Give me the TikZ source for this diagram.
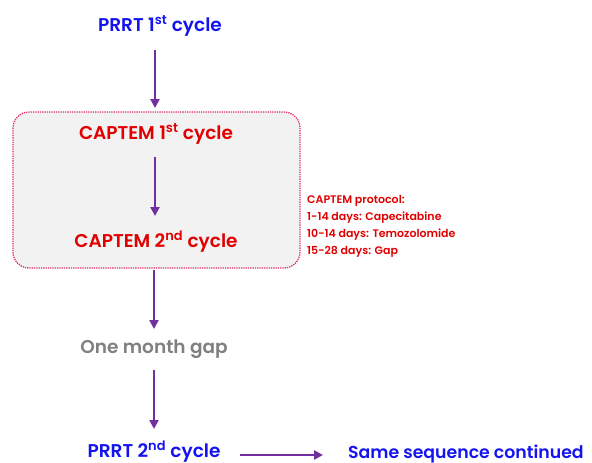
\documentclass[tikz,border=0pt]{standalone}
\usepackage{fontspec}
\setmainfont{Poppins}[BoldFont={Poppins SemiBold}]
\usepackage{tikz}
\usetikzlibrary{positioning, arrows.meta}
\definecolor{prrtcolor}{HTML}{1414F0}
\definecolor{captemcolor}{HTML}{E00000}
\definecolor{gapcolor}{HTML}{808080}
\definecolor{flowcolor}{HTML}{7030A0}
\definecolor{boxedge}{HTML}{E0306A}
\definecolor{boxfill}{HTML}{F2F2F2}

\begin{document}
\begin{tikzpicture}[x=1pt, y=-1pt,
    steptext/.style={font=\fontsize{18.5}{22}\selectfont\bfseries, inner sep=0pt, anchor=base},
    flow/.style={line width=2.4pt, flowcolor, arrows={-Triangle[length=9pt, width=9pt]}}]

    \useasboundingbox (0,0) rectangle (592,463);

    % Box round the CAPTEM cycles
    \draw[boxedge, fill=boxfill, densely dotted, line width=1.3pt, rounded corners=16pt]
        (13,112) rectangle (300,268);

    % Steps
    \node[steptext, prrtcolor]   (prrt1)   at (160,31)  {PRRT 1\textsuperscript{st} cycle};
    \node[steptext, captemcolor] (captem1) at (156,139) {CAPTEM 1\textsuperscript{st} cycle};
    \node[steptext, captemcolor] (captem2) at (156,247) {CAPTEM 2\textsuperscript{nd} cycle};
    \node[steptext, gapcolor]    (gap)     at (154,353) {One month gap};
    \node[steptext, prrtcolor]   (prrt2)   at (154,457) {PRRT 2\textsuperscript{nd} cycle};
    \node[steptext, prrtcolor, anchor=base west, font=\fontsize{17.3}{20}\selectfont\bfseries]
        (same) at (348,458) {Same sequence continued};

    % Protocol note
    \node[captemcolor, font=\fontsize{11}{17}\selectfont\bfseries, align=left, anchor=base west, inner sep=0pt]
        (protocol) at (307,254) {CAPTEM protocol:\\1-14 days: Capecitabine\\10-14 days: Temozolomide\\15-28 days: Gap};

    % Arrows
    \coordinate (a1s) at (155,50);  \coordinate (a1e) at (155,108);
    \coordinate (a2s) at (155,157); \coordinate (a2e) at (155,216);
    \coordinate (a3s) at (154,270); \coordinate (a3e) at (154,329);
    \coordinate (a4s) at (154,370); \coordinate (a4e) at (154,429);
    \coordinate (a5s) at (240,455); \coordinate (a5e) at (323,455);

    \draw[flow] (a1s) -- (a1e);
    \draw[flow] (a2s) -- (a2e);
    \draw[flow] (a3s) -- (a3e);
    \draw[flow] (a4s) -- (a4e);
    \draw[flow] (a5s) -- (a5e);
\end{tikzpicture}
\end{document}
